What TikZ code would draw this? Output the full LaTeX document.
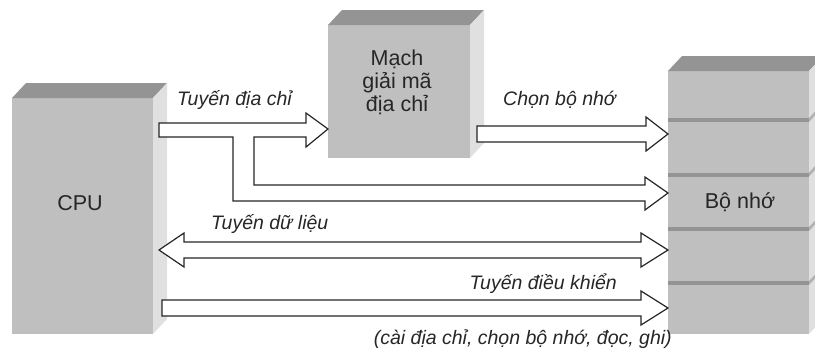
\documentclass[tikz,border=0pt]{standalone}
\usepackage{fontspec}
\setmainfont{Liberation Sans}
\usetikzlibrary{positioning}

\begin{document}
\begin{tikzpicture}[ % pixel grid, y downwards
    x=1pt, y=-1pt,
    font=\fontsize{19.5}{20}\selectfont,
    front/.style={rectangle, fill=black!25, inner sep=0pt, outer sep=0pt},
    topface/.style={fill=black!42},
    sideface/.style={fill=black!12},
    sepface/.style={fill=black!42},
    sepside/.style={fill=black!30},
    bus/.style={draw=black!85, fill=white, line width=1.2pt, line join=miter},
    lbl/.style={font=\fontsize{19.5}{20}\selectfont\itshape, inner sep=0pt, text=black!85},
    txt/.style={font=\fontsize{21.5}{21.5}\selectfont, inner sep=0pt, text=black!85, align=center}
    ]
    \clip (0,0) rectangle (815,349);

    % Front faces
    \node [front, minimum width=141pt, minimum height=236pt] (cpu) at (82.5,216) {};
    \node [front, minimum width=142pt, minimum height=133pt] (decoder) at (399,91.5) {};
    \node [front, minimum width=141pt, minimum height=263pt] (mem) at (738.5,202.5) {};

    % Top and side faces
    \foreach \blk in {cpu, decoder, mem} {
        \fill [topface] (\blk.north west) -- ++(14,-15) -- ([shift={(14,-15)}]\blk.north east) -- (\blk.north east) -- cycle;
        \fill [sideface] (\blk.north east) -- ++(14,-15) -- ([shift={(14,-15)}]\blk.south east) -- (\blk.south east) -- cycle;
    }

    % Memory cells
    \foreach \ys in {118,172.5,227,281} {
        \fill [sepface] (mem.west |- 0,\ys) rectangle (mem.east |- 0,\ys+4);
        \fill [sepside] (mem.east |- 0,\ys) -- ++(14,-15) -- ++(0,4) -- ++(-14,15) -- cycle;
    }

    % Texts
    \node [txt] (cpuText) at (80,203) {CPU};
    \node [txt] (decText) at (397,82) {Mạch\\[1.5pt]giải mã\\[1.5pt]địa chỉ};
    \node [txt] (memText) at (740,202) {Bộ nhớ};

    % Address bus, branching to memory
    \draw [bus] (159,123) -- (306,123) -- (306,113) -- (decoder.west |- 0,129) -- (306,147) -- (306,137)
        -- (254,137) -- (254,185) -- (645,185) -- (645,177) -- (mem.west |- 0,193) -- (645,210) -- (645,201)
        -- (233,201) -- (233,137) -- (159,137) -- cycle;
    % Chip select
    \draw [bus] (477,126) -- (646,126) -- (646,117) -- (mem.west |- 0,134) -- (646,151) -- (646,142) -- (477,142) -- cycle;
    % Data bus
    \draw [bus] (159,250) -- (184,233) -- (184,242) -- (641,242) -- (641,233) -- (mem.west |- 0,250)
        -- (641,267) -- (641,258) -- (184,258) -- (184,267) -- cycle;
    % Control bus
    \draw [bus] (162,300) -- (641,300) -- (641,291) -- (mem.west |- 0,308) -- (641,325) -- (641,316) -- (162,316) -- cycle;

    % Bus labels
    \node [lbl, anchor=west] (addrLabel) at (177,100) {Tuyến địa chỉ};
    \node [lbl, anchor=west] (selLabel) at (503,100) {Chọn bộ nhớ};
    \node [lbl, anchor=west] (dataLabel) at (211,224) {Tuyến dữ liệu};
    \node [lbl, anchor=east] (ctrlLabel) at (617,284) {Tuyến điều khiển};
    \node [lbl, anchor=east] (ctrlNote) at (672,339) {(cài địa chỉ, chọn bộ nhớ, đọc, ghi)};

\end{tikzpicture}
\end{document}
